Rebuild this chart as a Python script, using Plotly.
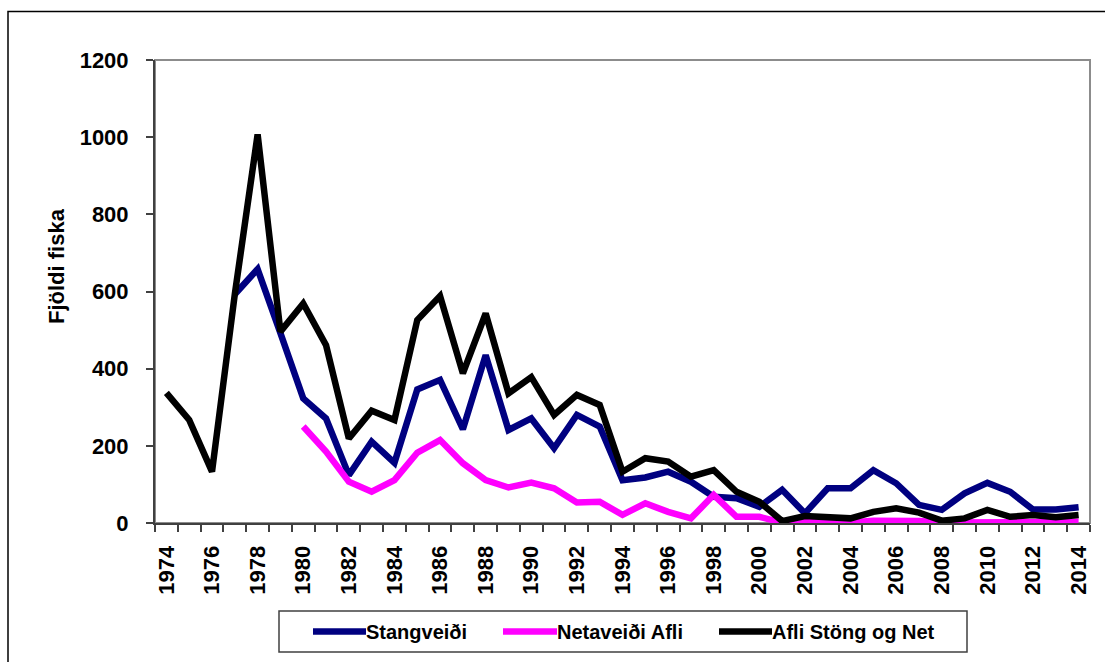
import plotly.graph_objects as go

years = list(range(1974, 2015))

stangveidi = [None, None, None, 593, 658, 492, 323, 271, 124, 211, 156, 346, 371, 243,
              435, 241, 271, 194, 280, 250, 111, 118, 133, 107, 68, 64, 42, 86, 25, 90,
              90, 137, 103, 47, 34, 77, 104, 81, 35, 35, 41]
netaveidi = [None, None, None, None, None, None, 250, 185, 107, 81, 111, 182, 215, 155,
             111, 92, 105, 90, 53, 55, 21, 51, 29, 12, 73, 16, 16, 1, 3, 2, 1, 6, 7, 5,
             1, 1, 2, 2, 3, 3, 3]
afli_alls = [337, 267, 133, 593, 1007, 496, 569, 461, 219, 291, 267, 526, 588, 388,
             543, 336, 378, 280, 332, 306, 133, 168, 159, 120, 137, 81, 55, 5, 18, 16,
             12, 29, 38, 27, 6, 12, 34, 16, 21, 15, 21]

series_names = ["Stangveiði", "Netaveiði Afli", "Afli Stöng og Net"]
series_colors = ["#000080", "#FF00FF", "#000000"]
tick_years = [y for y in years if y % 2 == 0]
tick_labels = [str(y) for y in tick_years]
y_ticks = [0, 200, 400, 600, 800, 1000, 1200]

FONT = "Liberation Sans, Arial, sans-serif"
W, H = 1105, 662
L, R, T, B = 155, 15, 60, 139
PW, PH = W - L - R, H - T - B


def px(x):
    return (x - L) / PW


def py(y):
    return (H - B - y) / PH


fig = go.Figure()
for name, vals, col in zip(series_names, [stangveidi, netaveidi, afli_alls], series_colors):
    fig.add_trace(go.Scatter(x=years, y=vals, name=name, mode="lines",
                             line=dict(color=col, width=6.5), connectgaps=False,
                             showlegend=False))

shapes = [
    # outer chart frame
    dict(type="rect", xref="paper", yref="paper", x0=px(8), x1=px(1112), y0=py(670), y1=py(11.5),
         line=dict(color="#000000", width=1.5), layer="below"),
    # plot area border (top/right gray)
    dict(type="rect", xref="paper", yref="paper", x0=0, x1=1, y0=0, y1=1,
         line=dict(color="#8c8c8c", width=2), layer="below"),
    # legend box
    dict(type="rect", xref="paper", yref="paper", x0=px(279), x1=px(967), y0=py(652), y1=py(611),
         line=dict(color="#404040", width=1.5), fillcolor="white", layer="below"),
]
annotations = [
    dict(text="Fjöldi fiska", xref="paper", yref="paper", x=px(56), y=py(266),
         textangle=-90, showarrow=False, xanchor="center", yanchor="middle",
         font=dict(family=FONT, size=22, color="#000000", weight="bold")),
]
leg_line_x = [(313, 366), (503, 557), (719, 772)]
leg_y = py(631.5)
for (x0, x1), name, col in zip(leg_line_x, series_names, series_colors):
    shapes.append(dict(type="line", xref="paper", yref="paper", x0=px(x0), x1=px(x1),
                       y0=leg_y, y1=leg_y, line=dict(color=col, width=6.5)))
    annotations.append(dict(text=name, xref="paper", yref="paper", x=px(x1) - 0.002, y=leg_y,
                            xanchor="left", yanchor="middle", showarrow=False,
                            font=dict(family=FONT, size=20, color="#000000", weight="bold")))

fig.update_layout(
    width=W, height=H,
    margin=dict(l=L, r=R, t=T, b=B, pad=0),
    paper_bgcolor="white", plot_bgcolor="white",
    font=dict(family=FONT, color="#000000"),
    shapes=shapes, annotations=annotations,
    xaxis=dict(
        range=[1973.5, 2014.5], tickmode="array", tickvals=tick_years, ticktext=tick_labels,
        tickangle=-90, ticks="", showgrid=False, zeroline=False,
        showline=True, linecolor="#404040", linewidth=2,
        tickfont=dict(family=FONT, size=22, color="#000000", weight="bold"),
        ticklabelstandoff=12,
        minor=dict(tickmode="array", tickvals=[y - 0.5 for y in years] + [years[-1] + 0.5],
                   ticks="outside", ticklen=7, tickwidth=1.5, tickcolor="#404040", showgrid=False),
    ),
    yaxis=dict(
        range=[0, 1200], tickmode="array", tickvals=y_ticks, ticks="outside", ticklen=7,
        tickwidth=1.5, tickcolor="#404040", showgrid=False, zeroline=False,
        showline=True, linecolor="#404040", linewidth=2,
        tickfont=dict(family=FONT, size=22, color="#000000", weight="bold"),
        ticklabelstandoff=13,
    ),
)

fig.write_html("out.html", config={"displayModeBar": False},
               post_script="document.body.style.margin='0';")
